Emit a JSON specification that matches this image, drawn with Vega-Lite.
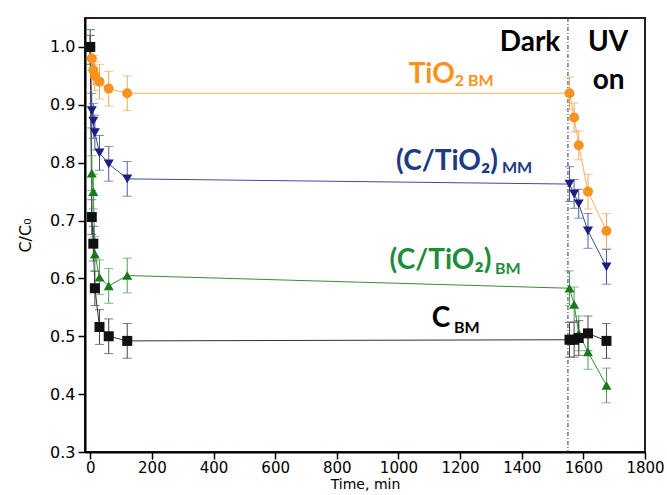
{
  "$schema": "https://vega.github.io/schema/vega-lite/v6.json",
  "width": 560,
  "height": 434,
  "autosize": {"type": "none"},
  "padding": {"left": 85, "top": 18, "right": 22, "bottom": 43},
  "background": "white",
  "config": {
    "view": {"stroke": "#222", "strokeWidth": 2},
    "axis": {
      "grid": false,
      "domainColor": "#000",
      "domainWidth": 2,
      "tickColor": "#000",
      "tickWidth": 1.5,
      "labelFont": "DejaVu Sans",
      "labelFontSize": 16,
      "labelColor": "#000",
      "labelFlush": false,
      "titleFont": "DejaVu Sans",
      "titleFontSize": 16,
      "titleFontWeight": "normal",
      "titleColor": "#000"
    }
  },
  "datasets": {
    "d": [
      {"s": "TiO2 BM", "t": 0, "v": 1.0, "e": 0.02},
      {"s": "TiO2 BM", "t": 5, "v": 0.98, "e": 0.02},
      {"s": "TiO2 BM", "t": 10, "v": 0.96, "e": 0.025},
      {"s": "TiO2 BM", "t": 15, "v": 0.95, "e": 0.025},
      {"s": "TiO2 BM", "t": 30, "v": 0.94, "e": 0.03},
      {"s": "TiO2 BM", "t": 60, "v": 0.928, "e": 0.03},
      {"s": "TiO2 BM", "t": 120, "v": 0.92, "e": 0.03},
      {"s": "TiO2 BM", "t": 1555, "v": 0.92, "e": 0.028},
      {"s": "TiO2 BM", "t": 1570, "v": 0.878, "e": 0.025},
      {"s": "TiO2 BM", "t": 1585, "v": 0.83, "e": 0.025},
      {"s": "TiO2 BM", "t": 1615, "v": 0.75, "e": 0.03},
      {"s": "TiO2 BM", "t": 1675, "v": 0.682, "e": 0.03},
      {"s": "C/TiO2 MM", "t": 0, "v": 1.0, "e": 0.03},
      {"s": "C/TiO2 MM", "t": 5, "v": 0.89, "e": 0.03},
      {"s": "C/TiO2 MM", "t": 10, "v": 0.872, "e": 0.03},
      {"s": "C/TiO2 MM", "t": 15, "v": 0.852, "e": 0.03},
      {"s": "C/TiO2 MM", "t": 30, "v": 0.817, "e": 0.03},
      {"s": "C/TiO2 MM", "t": 60, "v": 0.798, "e": 0.03},
      {"s": "C/TiO2 MM", "t": 120, "v": 0.772, "e": 0.03},
      {"s": "C/TiO2 MM", "t": 1555, "v": 0.763, "e": 0.03},
      {"s": "C/TiO2 MM", "t": 1570, "v": 0.746, "e": 0.025},
      {"s": "C/TiO2 MM", "t": 1585, "v": 0.729, "e": 0.025},
      {"s": "C/TiO2 MM", "t": 1615, "v": 0.682, "e": 0.03},
      {"s": "C/TiO2 MM", "t": 1675, "v": 0.62, "e": 0.03},
      {"s": "C/TiO2 BM", "t": 0, "v": 1.0, "e": 0.03},
      {"s": "C/TiO2 BM", "t": 5, "v": 0.782, "e": 0.03},
      {"s": "C/TiO2 BM", "t": 10, "v": 0.75, "e": 0.03},
      {"s": "C/TiO2 BM", "t": 15, "v": 0.642, "e": 0.03},
      {"s": "C/TiO2 BM", "t": 30, "v": 0.602, "e": 0.03},
      {"s": "C/TiO2 BM", "t": 60, "v": 0.587, "e": 0.03},
      {"s": "C/TiO2 BM", "t": 120, "v": 0.605, "e": 0.03},
      {"s": "C/TiO2 BM", "t": 1555, "v": 0.583, "e": 0.03},
      {"s": "C/TiO2 BM", "t": 1570, "v": 0.555, "e": 0.03},
      {"s": "C/TiO2 BM", "t": 1585, "v": 0.505, "e": 0.03},
      {"s": "C/TiO2 BM", "t": 1615, "v": 0.473, "e": 0.03},
      {"s": "C/TiO2 BM", "t": 1675, "v": 0.415, "e": 0.03},
      {"s": "C BM", "t": 0, "v": 1.0, "e": 0.02},
      {"s": "C BM", "t": 5, "v": 0.706, "e": 0.03},
      {"s": "C BM", "t": 10, "v": 0.66, "e": 0.03},
      {"s": "C BM", "t": 15, "v": 0.583, "e": 0.03},
      {"s": "C BM", "t": 30, "v": 0.516, "e": 0.03},
      {"s": "C BM", "t": 60, "v": 0.5, "e": 0.03},
      {"s": "C BM", "t": 120, "v": 0.492, "e": 0.03},
      {"s": "C BM", "t": 1555, "v": 0.494, "e": 0.03},
      {"s": "C BM", "t": 1570, "v": 0.494, "e": 0.03},
      {"s": "C BM", "t": 1585, "v": 0.497, "e": 0.03},
      {"s": "C BM", "t": 1615, "v": 0.505, "e": 0.03},
      {"s": "C BM", "t": 1675, "v": 0.492, "e": 0.03}
    ],
    "labels": [
      {"s": "TiO2 BM", "txt": "TiO", "t": 1183, "v": 0.938},
      {"s": "C/TiO2 MM", "txt": "(C/TiO₂)", "t": 1323, "v": 0.788},
      {"s": "C/TiO2 BM", "txt": "(C/TiO₂)", "t": 1302, "v": 0.6155},
      {"s": "C BM", "txt": "C", "t": 1168, "v": 0.5155}
    ],
    "sublabels": [
      {"s": "TiO2 BM", "txt": "2 BM", "t": 1183, "v": 0.933},
      {"s": "C/TiO2 MM", "txt": "MM", "t": 1336, "v": 0.783},
      {"s": "C/TiO2 BM", "txt": "BM", "t": 1313, "v": 0.607},
      {"s": "C BM", "txt": "BM", "t": 1180, "v": 0.505}
    ],
    "notes": [
      {"txt": "Dark", "t": 1427, "v": 0.993},
      {"txt": "UV", "t": 1680, "v": 0.993},
      {"txt": "on", "t": 1682, "v": 0.9276}
    ],
    "divider": [{"t": 1550}]
  },
  "layer": [
    {
      "data": {"name": "divider"},
      "mark": {"type": "rule", "color": "#333", "strokeWidth": 1, "strokeDash": [4, 2, 1, 2]},
      "encoding": {
        "x": {"field": "t", "type": "quantitative", "title": "Time, min"}
      }
    },
    {
      "data": {"name": "d"},
      "mark": {"type": "line", "strokeWidth": 1},
      "encoding": {
        "x": {
          "field": "t", "type": "quantitative", "title": "Time, min",
          "scale": {"domain": [-17, 1800], "nice": false, "zero": false},
          "axis": {
            "title": "Time, min",
            "values": [0, 100, 200, 300, 400, 500, 600, 700, 800, 900, 1000, 1100, 1200, 1300, 1400, 1500, 1600, 1700, 1800],
            "labelExpr": "datum.value % 200 === 0 ? format(datum.value, 'd') : ''",
            "tickSize": {"condition": {"test": "datum.value % 200 === 0", "value": 7}, "value": 4},
            "labelFontSize": 15,
            "labelPadding": 1,
            "titleFontSize": 14,
            "titlePadding": 2
          }
        },
        "y": {
          "field": "v", "type": "quantitative", "title": "C/C₀",
          "scale": {"domain": [0.3, 1.05], "nice": false, "zero": false},
          "axis": {
            "title": "C/C₀",
            "values": [0.3, 0.35, 0.4, 0.45, 0.5, 0.55, 0.6, 0.65, 0.7, 0.75, 0.8, 0.85, 0.9, 0.95, 1.0],
            "labelExpr": "abs(datum.value * 10 - round(datum.value * 10)) < 0.01 ? format(datum.value, '.1f') : ''",
            "tickSize": {"condition": {"test": "abs(datum.value * 10 - round(datum.value * 10)) < 0.01", "value": 7}, "value": 4},
            "labelPadding": 3,
            "titlePadding": 16
          }
        },
        "color": {
          "field": "s", "type": "nominal", "legend": null,
          "scale": {"domain": ["TiO2 BM", "C/TiO2 MM", "C/TiO2 BM", "C BM"], "range": ["#f4b066", "#3d4a96", "#3d8a3d", "#333333"]}
        },
        "order": {"field": "t", "type": "quantitative"}
      }
    },
    {
      "data": {"name": "d"},
      "mark": {"type": "errorbar", "ticks": {"size": 9}, "thickness": 1},
      "encoding": {
        "x": {"field": "t", "type": "quantitative", "title": "Time, min"},
        "y": {"field": "v", "type": "quantitative", "title": "C/C₀"},
        "yError": {"field": "e"},
        "color": {
          "field": "s", "type": "nominal", "legend": null,
          "scale": {"domain": ["TiO2 BM", "C/TiO2 MM", "C/TiO2 BM", "C BM"], "range": ["#eaa85c", "#4d5aa0", "#4f9a5a", "#444444"]}
        }
      }
    },
    {
      "data": {"name": "d"},
      "mark": {"type": "point", "filled": true, "size": 100, "opacity": 1},
      "encoding": {
        "x": {"field": "t", "type": "quantitative", "title": "Time, min"},
        "y": {"field": "v", "type": "quantitative", "title": "C/C₀"},
        "color": {
          "field": "s", "type": "nominal", "legend": null,
          "scale": {"domain": ["TiO2 BM", "C/TiO2 MM", "C/TiO2 BM", "C BM"], "range": ["#f7931e", "#1a1f80", "#1a7a1a", "#111111"]}
        },
        "shape": {
          "field": "s", "type": "nominal", "legend": null,
          "scale": {"domain": ["TiO2 BM", "C/TiO2 MM", "C/TiO2 BM", "C BM"], "range": ["circle", "triangle-down", "triangle-up", "square"]}
        }
      }
    },
    {
      "data": {"name": "labels"},
      "mark": {"type": "text", "font": "Lato", "fontWeight": "bold", "fontSize": 28, "align": "right", "baseline": "alphabetic"},
      "encoding": {
        "x": {"field": "t", "type": "quantitative", "title": "Time, min"},
        "y": {"field": "v", "type": "quantitative", "title": "C/C₀"},
        "text": {"field": "txt"},
        "color": {
          "field": "s", "type": "nominal", "legend": null,
          "scale": {"domain": ["TiO2 BM", "C/TiO2 MM", "C/TiO2 BM", "C BM"], "range": ["#f7931e", "#203a80", "#1f8c3c", "#000000"]}
        }
      }
    },
    {
      "data": {"name": "sublabels"},
      "mark": {"type": "text", "font": "Lato", "fontWeight": "bold", "fontSize": 16, "align": "left", "baseline": "alphabetic"},
      "encoding": {
        "x": {"field": "t", "type": "quantitative", "title": "Time, min"},
        "y": {"field": "v", "type": "quantitative", "title": "C/C₀"},
        "text": {"field": "txt"},
        "color": {
          "field": "s", "type": "nominal", "legend": null,
          "scale": {"domain": ["TiO2 BM", "C/TiO2 MM", "C/TiO2 BM", "C BM"], "range": ["#f7931e", "#203a80", "#1f8c3c", "#000000"]}
        }
      }
    },
    {
      "data": {"name": "notes"},
      "mark": {"type": "text", "font": "Lato", "fontWeight": "bold", "fontSize": 28, "align": "center", "baseline": "alphabetic", "color": "#000"},
      "encoding": {
        "x": {"field": "t", "type": "quantitative", "title": "Time, min"},
        "y": {"field": "v", "type": "quantitative", "title": "C/C₀"},
        "text": {"field": "txt"}
      }
    }
  ],
  "resolve": {"scale": {"color": "independent"}}
}
